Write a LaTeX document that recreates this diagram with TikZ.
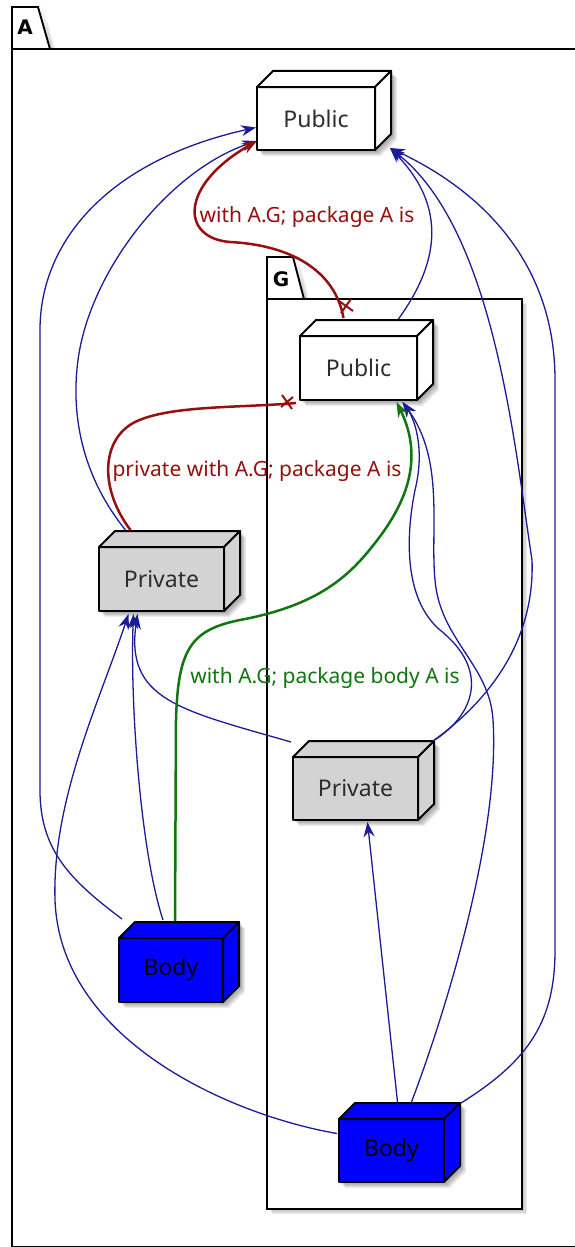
\documentclass[tikz,border=0pt]{standalone}
\usepackage{fontspec}
\setmainfont{Noto Sans}
\newfontfamily\tabfont{DejaVu Sans}
\usetikzlibrary{arrows.meta,calc}
\definecolor{linkblue}{RGB}{28,28,150}
\definecolor{linkred}{RGB}{150,16,16}
\definecolor{linkgreen}{RGB}{16,118,16}
\definecolor{privfill}{RGB}{211,211,211}
\definecolor{bodyfill}{RGB}{0,0,255}
\definecolor{nodetext}{RGB}{45,45,45}

% soft shadow behind a 3D box: x1 y1 x2 y2 depth
\newcommand\boxshadow[5]{%
  \foreach \s in {2,3,4,5,6}{%
    \fill[black, opacity=0.07] ({#1+\s},{#2+\s}) -- ({#1+#5+\s},{#2-#5+\s}) -- ({#3+#5+\s},{#2-#5+\s})
      -- ({#3+#5+\s},{#4-#5+\s}) -- ({#3+\s},{#4+\s}) -- ({#1+\s},{#4+\s}) -- cycle;}%
}
% 3D box: name, x1, y1, x2, y2, fill, text colour, text
\newcommand\devbox[8]{%
  \boxshadow{#2}{#3}{#4}{#5}{16}
  \node[face, fill=#6, text=#7, minimum width={(#4-#2)*1pt}, minimum height={(#5-#3)*1pt}]
    (#1) at ({(#2+#4)/2},{(#3+#5)/2}) {#8};
  \filldraw[boxline, fill=#6] (#2,#3) -- ({#2+16},{#3-16}) -- ({#4+16},{#3-16}) -- (#4,#3) -- cycle;
  \filldraw[boxline, fill=#6] (#4,#3) -- ({#4+16},{#3-16}) -- ({#4+16},{#5-16}) -- (#4,#5) -- cycle;
}

\begin{document}
\begin{tikzpicture}[x=1pt, y=-1pt,
  frameline/.style={draw=black, line width=1.9pt, line join=miter},
  boxline/.style={draw=black, line width=2pt, line join=round},
  face/.style={boxline, inner sep=0pt, font=\fontsize{23}{28}\selectfont},
  tip/.style={-{Stealth[length=15pt,width=11pt,inset=5pt]}},
  blueln/.style={draw=linkblue, line width=1.3pt, tip},
  redln/.style={draw=linkred, line width=2.5pt},
  greenln/.style={draw=linkgreen, line width=2.5pt, tip},
  lbl/.style={font=\fontsize{21}{25}\selectfont, inner sep=0pt},
  tablbl/.style={font=\tabfont\bfseries\fontsize{20}{24}\selectfont, inner sep=0pt}]

\useasboundingbox (0,0) rectangle (574,1247);
\fill[white] (0,0) rectangle (574,1247);

% package A
\foreach \s in {2,3.5,5}{\fill[black, opacity=0.08] ({38+\s},7) -- ({50+\s},{49}) -- ({46+\s},49) -- cycle;}
\filldraw[frameline, fill=white] (12,49) -- (12,7) -- (38,7) -- (50,49) -- cycle;
\draw[frameline] (12,49) -- (580,49);
\draw[frameline] (12,49) -- (12,1246.5) -- (580,1246.5);
\node[tablbl] (tabA) at (25,27.5) {A};

% package G
\foreach \s in {2,3.5,5}{\fill[black, opacity=0.08] ({267+\s},{299+\s}) rectangle ({522+\s},{1209+\s});
  \fill[black, opacity=0.08] ({293+\s},257) -- ({304+\s},299) -- ({300+\s},299) -- cycle;}
\filldraw[frameline, fill=white] (267,299) -- (267,257) -- (293,257) -- (304,299) -- cycle;
\filldraw[frameline, fill=white] (267,299) rectangle (522,1209);
\node[tablbl] (tabG) at (281,279) {G};

% nodes
\devbox{apub}{257}{87}{375}{150}{white}{nodetext}{Public}
\devbox{gpub}{300}{336}{417}{400}{white}{nodetext}{Public}
\devbox{apriv}{99}{547}{224}{611}{privfill}{nodetext}{Private}
\devbox{gpriv}{293}{757}{418}{820}{privfill}{nodetext}{Private}
\devbox{abody}{119}{938}{223}{1002}{bodyfill}{black}{Body}
\devbox{gbody}{339}{1119}{444}{1182}{bodyfill}{black}{Body}

% blue dependencies
\draw[blueln] ([shift={(4,-18)}]abody.north west) .. controls (70,880) and (40,850) .. (40,790)
  -- (40,330) .. controls (40,240) and (110,160) .. ([shift={(0,9)}]apub.west);
\draw[blueln] ([shift={(-36,-16)}]apriv.north) .. controls (85,480) and (70,420) .. (78,360)
  .. controls (90,270) and (170,170) .. ([shift={(1,-10)}]apub.south west);
\draw[blueln] ([shift={(40,-16)}]gpub.north) .. controls (430,275) and (455,215) .. ([shift={(14,-3)}]apub.south east);
\draw[blueln] ([shift={(14,-15)}]gpriv.north east) .. controls (490,700) and (535,640) .. (532,560)
  .. controls (515,450) and (495,230) .. ([shift={(14,-3)}]apub.south east);
\draw[blueln] ([shift={(16,-15)}]gbody.north east) .. controls (530,1060) and (555,1020) .. (555,950)
  -- (555,380) .. controls (555,270) and (490,195) .. ([shift={(14,-3)}]apub.south east);
\draw[blueln] ([shift={(6,-16)}]gbody.north) -- ([shift={(12,1)}]gpriv.south);
\draw[blueln] ([shift={(20,-16)}]gbody.north) .. controls (450,1000) and (500,830) .. (493,720)
  .. controls (490,665) and (440,640) .. (435,580)
  .. controls (430,530) and (445,460) .. ([shift={(44,1)}]gpub.south);
\draw[blueln] ([shift={(14,-15)}]gpriv.north east) .. controls (475,715) and (490,670) .. (440,630)
  .. controls (405,600) and (405,540) .. (415,490)
  .. controls (425,450) and (415,420) .. ([shift={(44,1)}]gpub.south);
\draw[blueln] ([shift={(-1,-17)}]gbody.west) .. controls (230,1115) and (60,1040) .. (55,900)
  .. controls (52,800) and (100,700) .. ([shift={(-33,2)}]apriv.south);
\draw[blueln] ([shift={(-8,-17)}]abody.north) .. controls (140,850) and (130,700) .. ([shift={(-28,2)}]apriv.south);
\draw[blueln] ([shift={(-1,-14)}]gpriv.north west) .. controls (180,710) and (125,700) .. ([shift={(-24,2)}]apriv.south);

% with clauses
\draw[redln, tip] ([shift={(-15,-17)}]gpub.north) .. controls (335,270) and (290,245) .. (230,242)
  .. controls (180,238) and (180,185) .. ([shift={(1,-10)}]apub.south west);
\coordinate (xa) at (346,306);
\draw[redln, line width=2pt] ($(xa)+(-7,-5)$) -- ($(xa)+(7,5)$);
\draw[redln, line width=2pt] ($(xa)+(5,-7)$) -- ($(xa)+(-5,7)$);
\node[lbl, text=linkred] (l1) at (307,217) {with A.G; package A is};

\draw[redln] ([shift={(-31,-16)}]apriv.north) .. controls (100,490) and (100,440) .. (135,422)
  .. controls (170,405) and (240,408) .. ([shift={(-3,2)}]gpub.south west);
\coordinate (xb) at (287,402);
\draw[redln, line width=2pt] ($(xb)+(-5,-7)$) -- ($(xb)+(5,7)$);
\draw[redln, line width=2pt] ($(xb)+(-6,5)$) -- ($(xb)+(6,-5)$);
\node[lbl, text=linkred] (l2) at (257,471) {private with A.G; package A is};

\draw[greenln] ([shift={(4,-16)}]abody.north) -- (176,720) .. controls (178,650) and (190,630) .. (240,620)
  .. controls (320,605) and (350,575) .. (375,543)
  .. controls (405,505) and (425,460) .. ([shift={(38,1)}]gpub.south);
\node[lbl, text=linkgreen] (l3) at (325,678) {with A.G; package body A is};

\end{tikzpicture}
\end{document}
